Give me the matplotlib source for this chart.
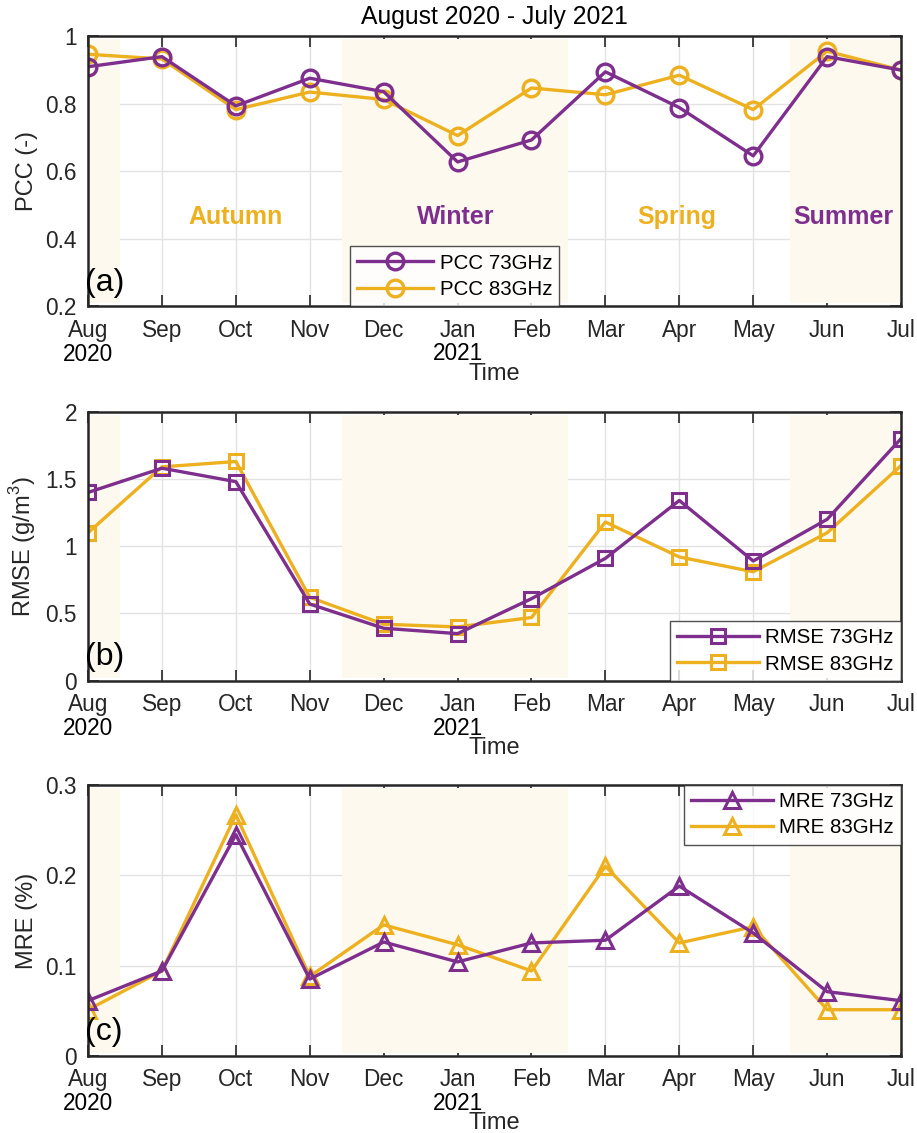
import matplotlib
matplotlib.use('Agg')
import matplotlib.pyplot as plt
from matplotlib.ticker import FuncFormatter, FixedLocator
from matplotlib import font_manager

# ---------------- data ----------------
months = ['Aug', 'Sep', 'Oct', 'Nov', 'Dec', 'Jan', 'Feb', 'Mar', 'Apr', 'May', 'Jun', 'Jul']
pcc_73 = [0.909, 0.939, 0.793, 0.875, 0.835, 0.627, 0.692, 0.894, 0.788, 0.645, 0.939, 0.899]
pcc_83 = [0.946, 0.932, 0.782, 0.834, 0.812, 0.705, 0.846, 0.826, 0.884, 0.782, 0.955, 0.899]
rmse_73 = [1.40, 1.58, 1.48, 0.57, 0.39, 0.35, 0.61, 0.91, 1.34, 0.89, 1.20, 1.80]
rmse_83 = [1.10, 1.59, 1.63, 0.62, 0.42, 0.40, 0.47, 1.18, 0.92, 0.81, 1.10, 1.60]
mre_73 = [0.061, 0.094, 0.245, 0.085, 0.126, 0.104, 0.125, 0.128, 0.188, 0.136, 0.071, 0.061]
mre_83 = [0.051, 0.094, 0.267, 0.088, 0.145, 0.123, 0.094, 0.210, 0.125, 0.143, 0.051, 0.051]
seasons = ['Autumn', 'Winter', 'Spring', 'Summer']
years = ['2020', '2021']

PURPLE = '#7E2F8E'
ORANGE = '#EDB120'
SHADE = '#FDF9EE'
DARK = '#262626'

names = {f.name for f in font_manager.fontManager.ttflist}
MAIN = 'Liberation Sans' if 'Liberation Sans' in names else 'DejaVu Sans'
plt.rcParams['font.family'] = [MAIN, 'DejaVu Sans']
plt.rcParams['mathtext.fontset'] = 'custom'
plt.rcParams['mathtext.rm'] = MAIN

fig = plt.figure(figsize=(9.17, 11.33), dpi=100)
L, W = 0.096, 0.8866
axa = fig.add_axes([L, 0.7299, W, 0.2383])
axb = fig.add_axes([L, 0.3992, W, 0.2374])
axc = fig.add_axes([L, 0.0682, W, 0.2389])

x = list(range(len(months)))
spans = [(0.0, 0.43), (3.44, 6.5), (9.5, 11.0)]
TICK_FS = 16.3
LABEL_FS = 17


def style(ax, ylim, yticks, ylabel, letter):
    ax.set_xlim(0, 11)
    ax.set_ylim(*ylim)
    ax.set_axisbelow(True)
    ax.grid(True, color='#E3E3E3', lw=1.0)
    for a, b in spans:
        ax.axvspan(a, b, ymin=0.01, ymax=0.988, color=SHADE, lw=0, zorder=2)
    ax.xaxis.set_major_locator(FixedLocator(x))
    ax.set_xticklabels(months)
    ax.yaxis.set_major_locator(FixedLocator(yticks))
    ax.yaxis.set_major_formatter(FuncFormatter(lambda v, p: '%g' % v))
    ax.tick_params(direction='in', length=8, width=1.2, top=True, right=True,
                   colors=DARK, labelsize=TICK_FS)
    ax.tick_params(axis='x', pad=9)
    ax.tick_params(axis='y', pad=8)
    for s in ax.spines.values():
        s.set_linewidth(1.8)
        s.set_color(DARK)
        s.set_zorder(6)
    ax.set_ylabel(ylabel, fontsize=LABEL_FS, color=DARK, labelpad=5)
    ax.text(0.5, -0.25, 'Time', transform=ax.transAxes, ha='center', va='center',
            fontsize=LABEL_FS, color=DARK)
    ax.text(0, -0.178, years[0], transform=ax.get_xaxis_transform(), ha='center',
            va='center', fontsize=TICK_FS, color='black')
    ax.text(5, -0.176, years[1], transform=ax.get_xaxis_transform(), ha='center',
            va='center', fontsize=TICK_FS, color='black')
    ax.text(-0.004, 0.087, letter, transform=ax.transAxes, ha='left', va='center',
            fontsize=23, color='black', zorder=7)


def legend(ax, **kw):
    leg = ax.legend(fontsize=TICK_FS - 1.5, frameon=True, fancybox=False, edgecolor=DARK,
                    borderpad=0.35, labelspacing=0.35, handletextpad=0.3,
                    borderaxespad=0, **kw)
    leg.get_frame().set_linewidth(1.0)
    leg.set_zorder(8)
    return leg


# Panel (a)
style(axa, (0.2, 1.0), [0.2, 0.4, 0.6, 0.8, 1.0], 'PCC (-)', '(a)')
axa.plot(x, pcc_73, '-o', color=PURPLE, lw=2.4, ms=12, mfc='none', mew=2.4,
         label='PCC 73GHz', zorder=5)
axa.plot(x, pcc_83, '-o', color=ORANGE, lw=2.4, ms=12, mfc='none', mew=2.4,
         label='PCC 83GHz', zorder=4)
season_x = [2.0, 4.97, 7.97, 10.22]
season_c = [ORANGE, PURPLE, ORANGE, PURPLE]
for s, sx, sc in zip(seasons, season_x, season_c):
    axa.text(sx, 0.464, s, color=sc, fontsize=18, fontweight='bold', ha='center',
             va='center', zorder=7)
axa.set_title('August 2020 - July 2021', fontsize=17.8, color='black', pad=9)
legend(axa, loc='lower left', bbox_to_anchor=(0.3225, 0.0), handlelength=3.7)

# Panel (b)
style(axb, (0, 2), [0, 0.5, 1, 1.5, 2], 'RMSE (g/m$^3$)', '(b)')
axb.plot(x, rmse_73, '-s', color=PURPLE, lw=2.4, ms=9.5, mfc='none', mew=2.2,
         label='RMSE 73GHz', zorder=5)
axb.plot(x, rmse_83, '-s', color=ORANGE, lw=2.4, ms=9.5, mfc='none', mew=2.2,
         label='RMSE 83GHz', zorder=4)
legend(axb, loc='lower right', handlelength=4.0)

# Panel (c)
style(axc, (0, 0.3), [0, 0.1, 0.2, 0.3], 'MRE (%)', '(c)')
axc.plot(x, mre_73, '-^', color=PURPLE, lw=2.4, ms=12, mfc='none', mew=2.2,
         label='MRE 73GHz', zorder=5)
axc.plot(x, mre_83, '-^', color=ORANGE, lw=2.4, ms=12, mfc='none', mew=2.2,
         label='MRE 83GHz', zorder=4)
legend(axc, loc='upper right', handlelength=4.0)

fig.savefig('out.png', dpi=100)
